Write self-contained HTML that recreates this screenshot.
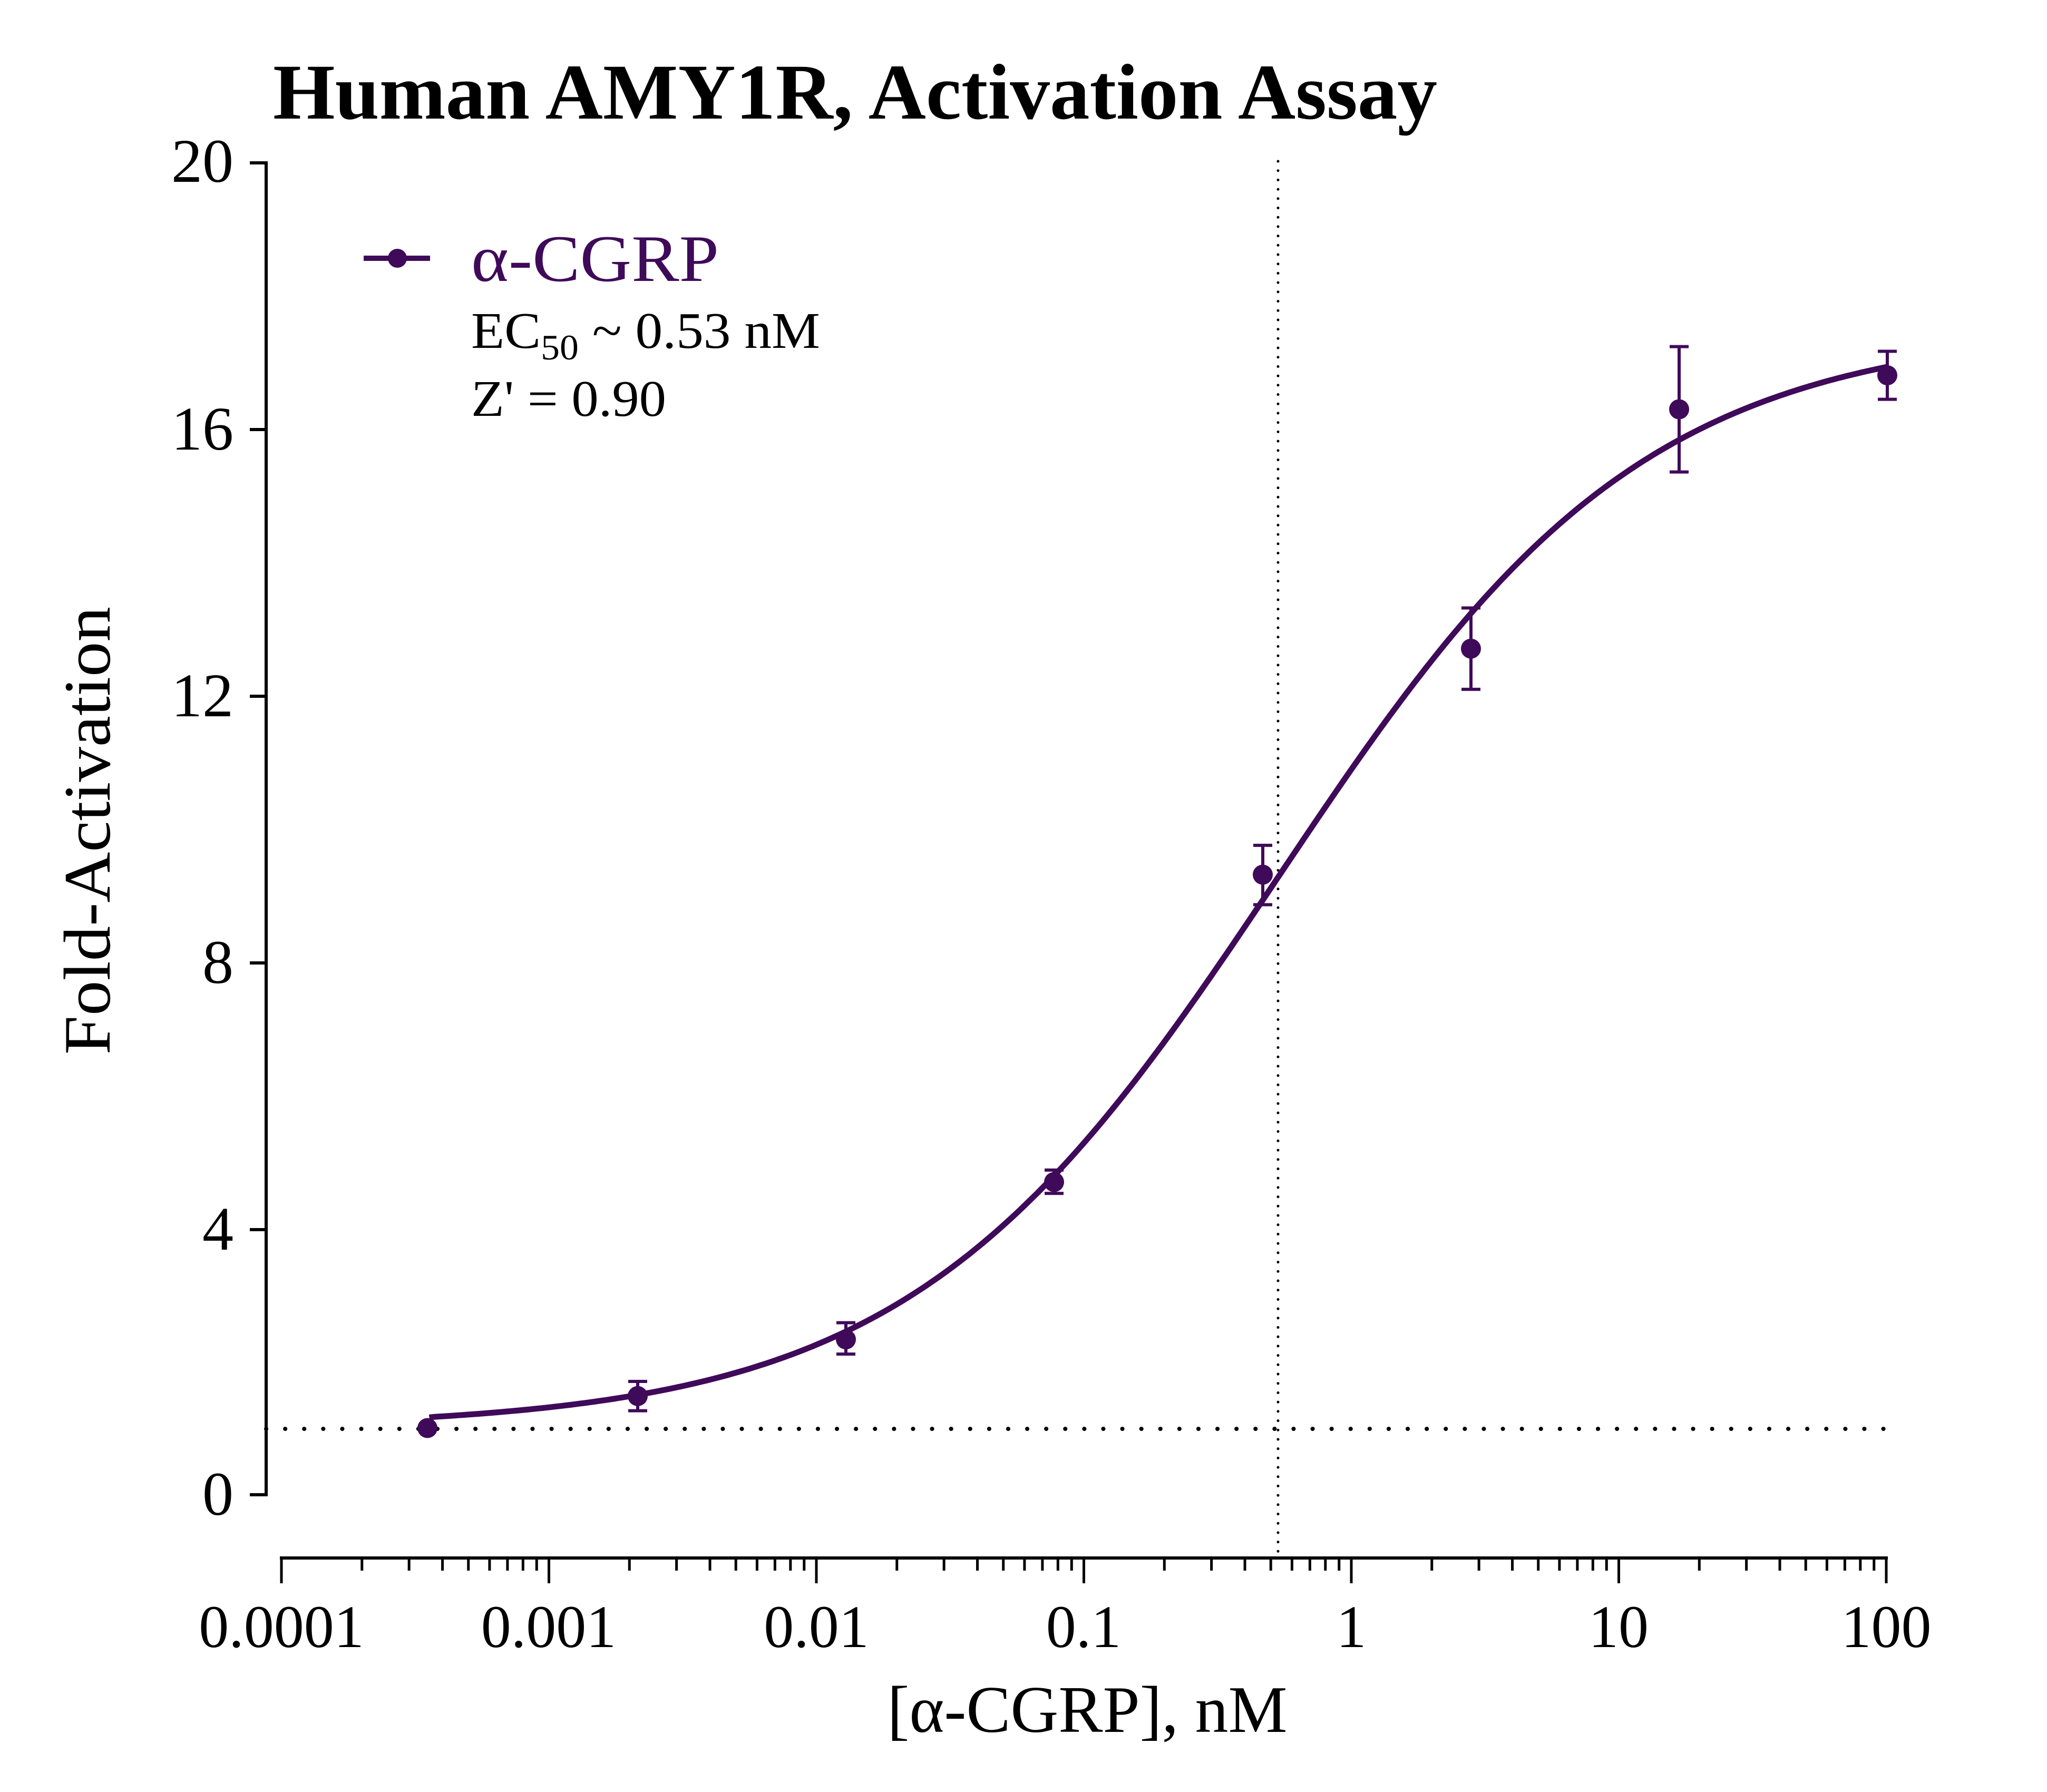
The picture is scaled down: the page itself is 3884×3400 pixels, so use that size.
<!DOCTYPE html>
<html><head><meta charset="utf-8"><style>
html,body{margin:0;padding:0;background:#fff;width:3884px;height:3400px;overflow:hidden}
svg{display:block}
text{font-family:"Liberation Serif",serif}
</style></head><body>
<svg width="3884" height="3400" viewBox="0 0 3884 3400" xmlns="http://www.w3.org/2000/svg">
<text x="518" y="225" font-size="150" font-weight="bold" textLength="2209" lengthAdjust="spacingAndGlyphs">Human AMY1R, Activation Assay</text>
<line x1="505" y1="306" x2="505" y2="2839" stroke="#000" stroke-width="6"/>
<g stroke="#000" stroke-width="6">
<line x1="474" y1="309" x2="508" y2="309"/>
<line x1="474" y1="815" x2="508" y2="815"/>
<line x1="474" y1="1321" x2="508" y2="1321"/>
<line x1="474" y1="1827" x2="508" y2="1827"/>
<line x1="474" y1="2333" x2="508" y2="2333"/>
<line x1="474" y1="2836" x2="508" y2="2836"/>
</g>
<g font-size="118" text-anchor="end">
<text x="443" y="345">20</text>
<text x="443" y="853">16</text>
<text x="443" y="1359">12</text>
<text x="443" y="1865">8</text>
<text x="443" y="2371">4</text>
<text x="443" y="2874">0</text>
</g>
<text transform="translate(208,1576) rotate(-90)" font-size="126" text-anchor="middle" textLength="850" lengthAdjust="spacingAndGlyphs">Fold-Activation</text>
<line x1="531" y1="2956" x2="3582" y2="2956" stroke="#000" stroke-width="6"/>
<g id="xt" stroke="#000" stroke-width="5"></g>
<g font-size="114" text-anchor="middle">
<text x="534" y="3125">0.0001</text>
<text x="1041" y="3125">0.001</text>
<text x="1549" y="3125">0.01</text>
<text x="2056" y="3125">0.1</text>
<text x="2564" y="3125">1</text>
<text x="3071" y="3125">10</text>
<text x="3579" y="3125">100</text>
</g>
<text x="2063" y="3286" font-size="126" text-anchor="middle">[α-CGRP], nM</text>
<line x1="505" y1="2711" x2="3578" y2="2711" stroke="#000" stroke-width="8" stroke-linecap="round" stroke-dasharray="0.1 36"/>
<line x1="2425" y1="306" x2="2425" y2="2952" stroke="#000" stroke-width="5" stroke-linecap="round" stroke-dasharray="0.1 17.6"/>
<path id="curve" fill="none" stroke="#3f0a59" stroke-width="11" stroke-linejoin="round"/>
<g id="pts" stroke="#3f0a59" stroke-width="6" fill="#3f0a59"></g>
<line x1="690" y1="490" x2="816" y2="490" stroke="#3f0a59" stroke-width="10"/>
<circle cx="754" cy="490" r="18" fill="#3f0a59"/>
<text x="894" y="533" font-size="126" fill="#3f0a59" textLength="470" lengthAdjust="spacingAndGlyphs">α-CGRP</text>
<text x="894" y="660" font-size="98" textLength="662" lengthAdjust="spacingAndGlyphs">EC<tspan font-size="68" dy="22">50</tspan><tspan dy="-22"> ~ 0.53 nM</tspan></text>
<text x="894" y="789" font-size="98" textLength="370" lengthAdjust="spacingAndGlyphs">Z' = 0.90</text>
</svg>
<script>
var NS="http://www.w3.org/2000/svg";
function X(c){return 534+507.5*(Math.log10(c)+4);}
function Y(v){return 2836-126.5*v;}
var xt=document.getElementById('xt');
function ln(x1,y1,x2,y2){var l=document.createElementNS(NS,'line');l.setAttribute('x1',x1);l.setAttribute('y1',y1);l.setAttribute('x2',x2);l.setAttribute('y2',y2);return l;}
for(var d=-4;d<=2;d++){
 xt.appendChild(ln(X(Math.pow(10,d)),2956,X(Math.pow(10,d)),3004));
 if(d<2)for(var k=2;k<=9;k++){var x=X(k*Math.pow(10,d));xt.appendChild(ln(x,2956,x,2980));}
}
var B=1.0,T=17.5,E=0.53,H=0.63;
var p="";
for(var i=0;i<=300;i++){var lc=Math.log10(0.000357)+i*(2-Math.log10(0.000357))/300;var c=Math.pow(10,lc);var r=Math.pow(c/E,H);var v=B+(T-B)*r/(1+r);if(i==0)v=1.16;p+=(i?"L":"M")+X(c).toFixed(1)+" "+Y(v).toFixed(1);}
document.getElementById('curve').setAttribute('d',p);
var data=[[811,1.0,1.0,1.0],[1210,1.48,1.70,1.26],[1605,2.33,2.58,2.11],[2000,4.69,4.87,4.52],[2396,9.30,9.74,8.85],[2791,12.69,13.3,12.08],[3186,16.28,17.22,15.34],[3581,16.79,17.15,16.43]];
var g=document.getElementById('pts');
data.forEach(function(d){
 if(d[2]!=d[3]){g.appendChild(ln(d[0],Y(d[2]),d[0],Y(d[3])));g.appendChild(ln(d[0]-18,Y(d[2]),d[0]+18,Y(d[2])));g.appendChild(ln(d[0]-18,Y(d[3]),d[0]+18,Y(d[3])));}
 var c=document.createElementNS(NS,'circle');c.setAttribute('cx',d[0]);c.setAttribute('cy',Y(d[1]));c.setAttribute('r',19);c.setAttribute('stroke','none');g.appendChild(c);
});
</script>
</body></html>
